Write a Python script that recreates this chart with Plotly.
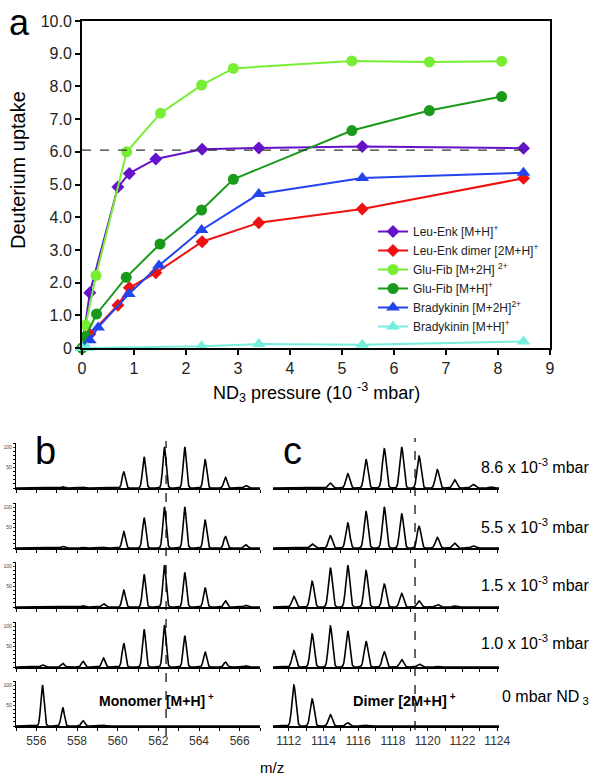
import numpy as np
import plotly.graph_objects as go

# ---------------- Panel a data ----------------
leu_x = [0, 0.15, 0.69, 0.91, 1.42, 2.31, 3.40, 5.39, 8.49]
leu_y = [0, 1.69, 4.92, 5.34, 5.78, 6.08, 6.12, 6.16, 6.11]
leud_x = [0, 0.15, 0.69, 0.91, 1.42, 2.31, 3.40, 5.39, 8.49]
leud_y = [0, 0.42, 1.31, 1.84, 2.30, 3.25, 3.83, 4.25, 5.19]
glu2_x = [0, 0.07, 0.27, 0.86, 1.51, 2.30, 2.91, 5.19, 6.68, 8.07]
glu2_y = [0, 0.70, 2.22, 6.00, 7.18, 8.04, 8.55, 8.78, 8.75, 8.77]
glu1_x = [0, 0.07, 0.28, 0.85, 1.50, 2.30, 2.91, 5.19, 6.68, 8.07]
glu1_y = [0, 0.35, 1.04, 2.16, 3.18, 4.22, 5.16, 6.65, 7.26, 7.69]
bk2_x = [0, 0.15, 0.31, 0.90, 1.48, 2.30, 3.40, 5.39, 8.49]
bk2_y = [0, 0.24, 0.63, 1.65, 2.52, 3.61, 4.71, 5.20, 5.36]
bk1_x = [0, 0.10, 2.30, 3.40, 5.39, 8.49]
bk1_y = [0, 0.00, 0.05, 0.12, 0.10, 0.20]
ref_uptake = 6.05
ref_uptake_end = 8.65

series_names = ["Leu-Enk [M+H]<sup>+</sup>", "Leu-Enk dimer [2M+H]<sup>+</sup>",
                "Glu-Fib [M+2H] <sup>2+</sup>", "Glu-Fib [M+H]<sup>+</sup>",
                "Bradykinin [M+2H]<sup>2+</sup>", "Bradykinin [M+H]<sup>+</sup>"]
y_ticks_a = [0, 1, 2, 3, 4, 5, 6, 7, 8, 9, 10]
y_ticklabels_a = ["0", "1.0", "2.0", "3.0", "4.0", "5.0", "6.0", "7.0", "8.0", "9.0", "10.0"]
x_ticks_a = [0, 1, 2, 3, 4, 5, 6, 7, 8, 9]

# ---------------- Panels b / c data ----------------
row_labels = ["8.6 x 10<sup>-3</sup> mbar", "5.5 x 10<sup>-3</sup> mbar",
              "1.5 x 10<sup>-3</sup> mbar", "1.0 x 10<sup>-3</sup> mbar",
              "0 mbar ND<sub> 3</sub>"]
mono_mz = [556.3, 557.3, 558.3, 559.3, 560.3, 561.3, 562.3, 563.3, 564.3, 565.3, 566.3]
mono_int = [
    [0.01, 0.03, 0.02, 0.01, 0.39, 0.76, 1.00, 1.00, 0.69, 0.26, 0.06],
    [0.01, 0.04, 0.02, 0.02, 0.40, 0.74, 1.00, 1.00, 0.68, 0.28, 0.08],
    [0.00, 0.01, 0.03, 0.08, 0.41, 0.80, 1.02, 0.84, 0.47, 0.15, 0.04],
    [0.05, 0.09, 0.14, 0.22, 0.58, 0.92, 1.02, 0.76, 0.37, 0.12, 0.03],
    [1.00, 0.45, 0.13, 0.02, 0.00, 0.00, 0.00, 0.00, 0.00, 0.00, 0.00],
]
dimer_mz = [1112.3, 1113.35, 1114.4, 1115.4, 1116.45, 1117.5, 1118.5, 1119.5,
            1120.55, 1121.55, 1122.6, 1123.6]
dimer_int = [
    [0.00, 0.01, 0.12, 0.35, 0.70, 0.96, 1.00, 0.78, 0.45, 0.20, 0.09, 0.03],
    [0.01, 0.10, 0.30, 0.61, 0.89, 1.00, 0.84, 0.53, 0.26, 0.12, 0.05, 0.01],
    [0.26, 0.63, 0.96, 1.02, 0.89, 0.56, 0.33, 0.15, 0.06, 0.03, 0.01, 0.00],
    [0.40, 0.81, 1.00, 0.88, 0.63, 0.37, 0.18, 0.07, 0.02, 0.01, 0.00, 0.00],
    [1.00, 0.66, 0.28, 0.08, 0.02, 0.00, 0.00, 0.00, 0.00, 0.00, 0.00, 0.00],
]
mono_ref_mz = 562.38
dimer_ref_mz = 1119.27
mono_range = [555, 567]
dimer_range = [1111.1, 1124.1]
mono_ticks = [556, 558, 560, 562, 564, 566]
mono_ticklabels = ["556", "558", "560", "562", "564", "566"]
dimer_ticks = [1112, 1114, 1116, 1118, 1120, 1122, 1124]
dimer_ticklabels = ["1112", "1114", "1116", "1118", "1120", "1122", "1124"]
intensity_ticks = [0.5, 1.0]
intensity_ticklabels = ["50", "100"]

# ---------------- helpers ----------------
W, H = 601, 782
FONT = "Liberation Sans, Arial, sans-serif"


def px(x):
    return x / W


def py(y):
    return 1 - y / H


def profile(grid, centers, heights, sigma):
    out = np.zeros_like(grid)
    for c, h in zip(centers, heights):
        out += h * np.exp(-0.5 * ((grid - c) / sigma) ** 2)
    return out


fig = go.Figure()

colors = ["#6611CC", "#EE1111", "#77EE33", "#1A991A", "#2244EE", "#77EEDD"]
symbols = ["diamond", "diamond", "circle", "circle", "triangle-up", "triangle-up"]
sizes = [10, 10, 11, 11, 12, 12]
xs_all = [leu_x, leud_x, glu2_x, glu1_x, bk2_x, bk1_x]
ys_all = [leu_y, leud_y, glu2_y, glu1_y, bk2_y, bk1_y]

for name, xs, ys, c, s, sz in zip(series_names, xs_all, ys_all, colors, symbols, sizes):
    fig.add_trace(go.Scatter(x=xs, y=ys, mode="lines+markers", name=name,
                             line=dict(color=c, width=2),
                             marker=dict(symbol=s, size=sz, color=c),
                             cliponaxis=False, xaxis="x", yaxis="y"))

layout_axes = {}
baselines = [488, 548, 607, 667, 726]
row_h = 45
grid_b = np.linspace(mono_range[0], mono_range[1], 2400)
grid_c = np.linspace(dimer_range[0], dimer_range[1], 2400)

for i in range(5):
    kb, kc = 2 + i, 7 + i
    last = (i == 4)
    fig.add_trace(go.Scatter(x=grid_b, y=profile(grid_b, mono_mz, mono_int[i], 0.08),
                             mode="lines", line=dict(color="black", width=1.6),
                             showlegend=False, xaxis=f"x{kb}", yaxis=f"y{kb}",
                             hoverinfo="skip"))
    fig.add_trace(go.Scatter(x=grid_c, y=profile(grid_c, dimer_mz, dimer_int[i], 0.11),
                             mode="lines", line=dict(color="black", width=1.6),
                             showlegend=False, xaxis=f"x{kc}", yaxis=f"y{kc}",
                             hoverinfo="skip"))
    dom = [py(baselines[i]), py(baselines[i] - row_h)]
    common_x = dict(showline=True, linecolor="black", linewidth=1.5, ticks="outside",
                    ticklen=3, tickwidth=1, tickcolor="black", showgrid=False,
                    zeroline=False, showticklabels=last, automargin=False,
                    tickfont=dict(size=12, color="#333", family=FONT))
    layout_axes[f"xaxis{kb}"] = dict(common_x, domain=[px(16), px(260)], range=mono_range,
                                     anchor=f"y{kb}", tickvals=mono_ticks,
                                     ticktext=mono_ticklabels,
                                     minor=dict(ticks="outside", dtick=1, tick0=555,
                                                ticklen=3, tickcolor="black"))
    layout_axes[f"xaxis{kc}"] = dict(common_x, domain=[px(273), px(499)], range=dimer_range,
                                     anchor=f"y{kc}", tickvals=dimer_ticks,
                                     ticktext=dimer_ticklabels,
                                     minor=dict(ticks="outside", dtick=1, tick0=1112,
                                                ticklen=3, tickcolor="black"))
    layout_axes[f"yaxis{kb}"] = dict(domain=dom, range=[0, 1.1], anchor=f"x{kb}",
                                     showline=True, linecolor="black", linewidth=1.2,
                                     ticks="outside", ticklen=2, tickwidth=1,
                                     tickvals=intensity_ticks,
                                     ticktext=intensity_ticklabels,
                                     tickfont=dict(size=5, color="#444", family=FONT),
                                     minor=dict(ticks="outside", dtick=0.1, ticklen=1.5,
                                                tickcolor="black"),
                                     showgrid=False, zeroline=False, automargin=False)
    layout_axes[f"yaxis{kc}"] = dict(domain=dom, range=[0, 1.1], anchor=f"x{kc}",
                                     showline=False, showgrid=False, zeroline=False,
                                     showticklabels=False, ticks="", tickvals=[],
                                     automargin=False)

axis_a_common = dict(showline=True, mirror=True, linecolor="black", linewidth=2,
                     ticks="outside", ticklen=5, tickwidth=2, tickcolor="black",
                     showgrid=False, zeroline=False, automargin=False,
                     tickfont=dict(size=16, color="#222", family=FONT))
layout_axes["xaxis"] = dict(axis_a_common, domain=[px(82), px(550)], range=[0, 9],
                            anchor="y", tickvals=x_ticks_a)
layout_axes["yaxis"] = dict(axis_a_common, domain=[py(348), py(21)], range=[0, 10],
                            anchor="x", tickvals=y_ticks_a, ticktext=y_ticklabels_a)

shapes = [
    dict(type="line", xref="x", yref="y", x0=0, x1=ref_uptake_end, y0=ref_uptake,
         y1=ref_uptake, line=dict(color="#333", width=1.2, dash="dash")),
    dict(type="line", xref="x2", yref="paper", x0=mono_ref_mz, x1=mono_ref_mz,
         y0=py(736), y1=py(441), line=dict(color="black", width=1.2, dash="dash")),
    dict(type="line", xref="x7", yref="paper", x0=dimer_ref_mz, x1=dimer_ref_mz,
         y0=py(730), y1=py(438), line=dict(color="black", width=1.2, dash="dash")),
]


def ann(text, x, y, size, xanchor="center", yanchor="middle", angle=0, bold=False):
    if bold:
        text = f"<b>{text}</b>"
    return dict(text=text, x=px(x), y=py(y), xref="paper", yref="paper",
                xanchor=xanchor, yanchor=yanchor, showarrow=False, textangle=angle,
                font=dict(size=size, color="black", family=FONT))


annotations = [
    ann("a", 19, 0, 36, yanchor="top"),
    ann("b", 45, 451, 38),
    ann("c", 292, 451, 38),
    ann("Deuterium uptake", 18, 170, 20, angle=-90),
    ann("ND<sub>3</sub> pressure (10 <sup>-3</sup> mbar)", 316, 392, 18),
    ann("m/z", 272, 767, 15),
    ann("Monomer [M+H]<sup> +</sup>", 156, 700, 14, bold=True),
    ann("Dimer [2M+H]<sup> +</sup>", 404, 700, 14.5, bold=True),
]
label_y = [466, 526, 584, 642, 697]
for lab, yy in zip(row_labels, label_y):
    annotations.append(ann(lab, 591, yy, 16, xanchor="right"))

fig.update_layout(
    width=W, height=H, margin=dict(l=0, r=0, t=0, b=0, autoexpand=False),
    paper_bgcolor="white", plot_bgcolor="white",
    font=dict(family=FONT, color="black"),
    showlegend=True,
    legend=dict(x=px(373), y=py(217), xanchor="left", yanchor="top",
                bgcolor="rgba(0,0,0,0)", font=dict(size=12, family=FONT, color="#222"),
                itemwidth=30, tracegroupgap=0),
    shapes=shapes, annotations=annotations,
    **layout_axes,
)

fig.write_html("out.html", config={"displayModeBar": False},
               post_script="document.body.style.margin='0';document.body.style.overflow='hidden';")
